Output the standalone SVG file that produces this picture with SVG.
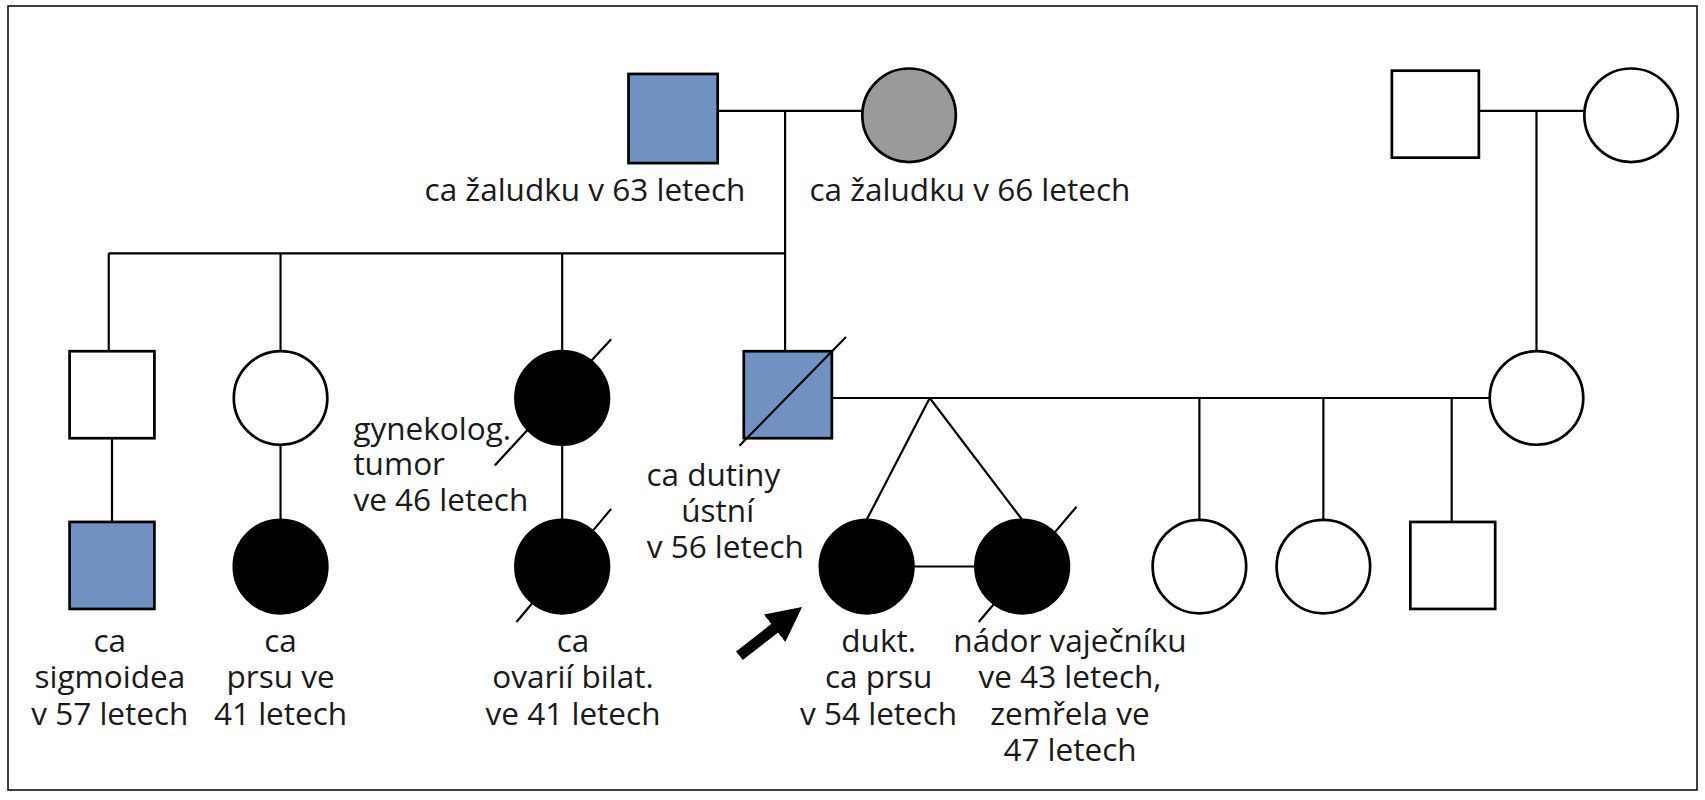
<svg xmlns="http://www.w3.org/2000/svg" width="1705" height="800" viewBox="0 0 1705 800">
<style>
.l{stroke:#000;stroke-width:2;fill:none}
.s{stroke:#000;stroke-width:2.5}
.w{fill:#fff}.b{fill:#7191c3}.g{fill:#9a9a9a}.k{fill:#000}
text{font-family:"Open Sans","Liberation Sans",sans-serif;font-size:29px;fill:#1a1a1a;text-anchor:middle}
text.st{text-anchor:start}
</style>
<defs><marker id="ah" viewBox="0 0 10 10" refX="5" refY="5" markerWidth="3.2" markerHeight="3.2" orient="auto"><path d="M0,0L10,5L0,10z" fill="#000"/></marker></defs>
<rect x="8" y="6" width="1689" height="784" fill="#fff" stroke="#000" stroke-width="1.5"/>
<g transform="scale(1.0874)">
<g id="connectors" class="l">
<path d="M660,102H793M722,102V233M100,233H722M100,233V323M258,233V323M517,233V323M722,233V323"/>
<path d="M1360,102H1457M1413,102V323"/>
<path d="M103,403V480M258,409V478M517,409V478"/>
<path d="M765,366H1370M855,366L797,478M855,366L940,478M840,521H897M1103,366V478M1217,366V478M1335,366V480"/>
<path d="M680,603L725,568" stroke-width="10" marker-end="url(#ah)"/>
</g>
<g id="n1"><rect x="578" y="68" width="82" height="82" class="s b"/></g>
<g id="n2"><circle cx="836" cy="106" r="43" class="s g"/></g>
<g id="n3"><rect x="1280" y="65" width="80" height="80" class="s w"/></g>
<g id="n4"><circle cx="1500" cy="106" r="43" class="s w"/></g>
<g id="n5"><rect x="64" y="323" width="78" height="80" class="s w"/></g>
<g id="n6"><circle cx="258" cy="366" r="43" class="s w"/></g>
<g id="n7"><circle cx="517" cy="366" r="43" class="s k"/></g>
<g id="n8"><rect x="684" y="323" width="81" height="80" class="s b"/></g>
<g id="n9"><circle cx="1413" cy="366" r="43" class="s w"/></g>
<g id="n10"><rect x="64" y="480" width="78" height="80" class="s b"/></g>
<g id="n11"><circle cx="258" cy="521" r="43" class="s k"/></g>
<g id="n12"><circle cx="517" cy="521" r="43" class="s k"/></g>
<g id="n13"><circle cx="797" cy="521" r="43" class="s k"/></g>
<g id="n14"><circle cx="940" cy="521" r="43" class="s k"/></g>
<g id="n15"><circle cx="1103" cy="521" r="43" class="s w"/></g>
<g id="n16"><circle cx="1217" cy="521" r="43" class="s w"/></g>
<g id="n17"><rect x="1297" y="480" width="78" height="80" class="s w"/></g>
<g class="l"><path d="M455,428L562,312M680,410L778,310M475,572L562,468M900,572L990,466"/></g>
<g id="labels">
<text x="538" y="185">ca žaludku v 63 letech</text>
<text x="892" y="185">ca žaludku v 66 letech</text>
<text class="st" x="325" y="405">gynekolog.</text>
<text class="st" x="325" y="437">tumor</text>
<text class="st" x="325" y="470">ve 46 letech</text>
<text x="656" y="447">ca dutiny</text>
<text x="660" y="480">ústní</text>
<text x="667" y="513">v 56 letech</text>
<text x="101" y="600">ca</text><text x="101" y="633">sigmoidea</text><text x="101" y="667">v 57 letech</text>
<text x="258" y="600">ca</text><text x="258" y="633">prsu ve</text><text x="258" y="667">41 letech</text>
<text x="527" y="600">ca</text><text x="527" y="633">ovarií bilat.</text><text x="527" y="667">ve 41 letech</text>
<text x="808" y="600">dukt.</text><text x="808" y="633">ca prsu</text><text x="808" y="667">v 54 letech</text>
<text x="984" y="600">nádor vaječníku</text><text x="984" y="633">ve 43 letech,</text><text x="984" y="667">zemřela ve</text><text x="984" y="700">47 letech</text>
</g>
</g>
</svg>
